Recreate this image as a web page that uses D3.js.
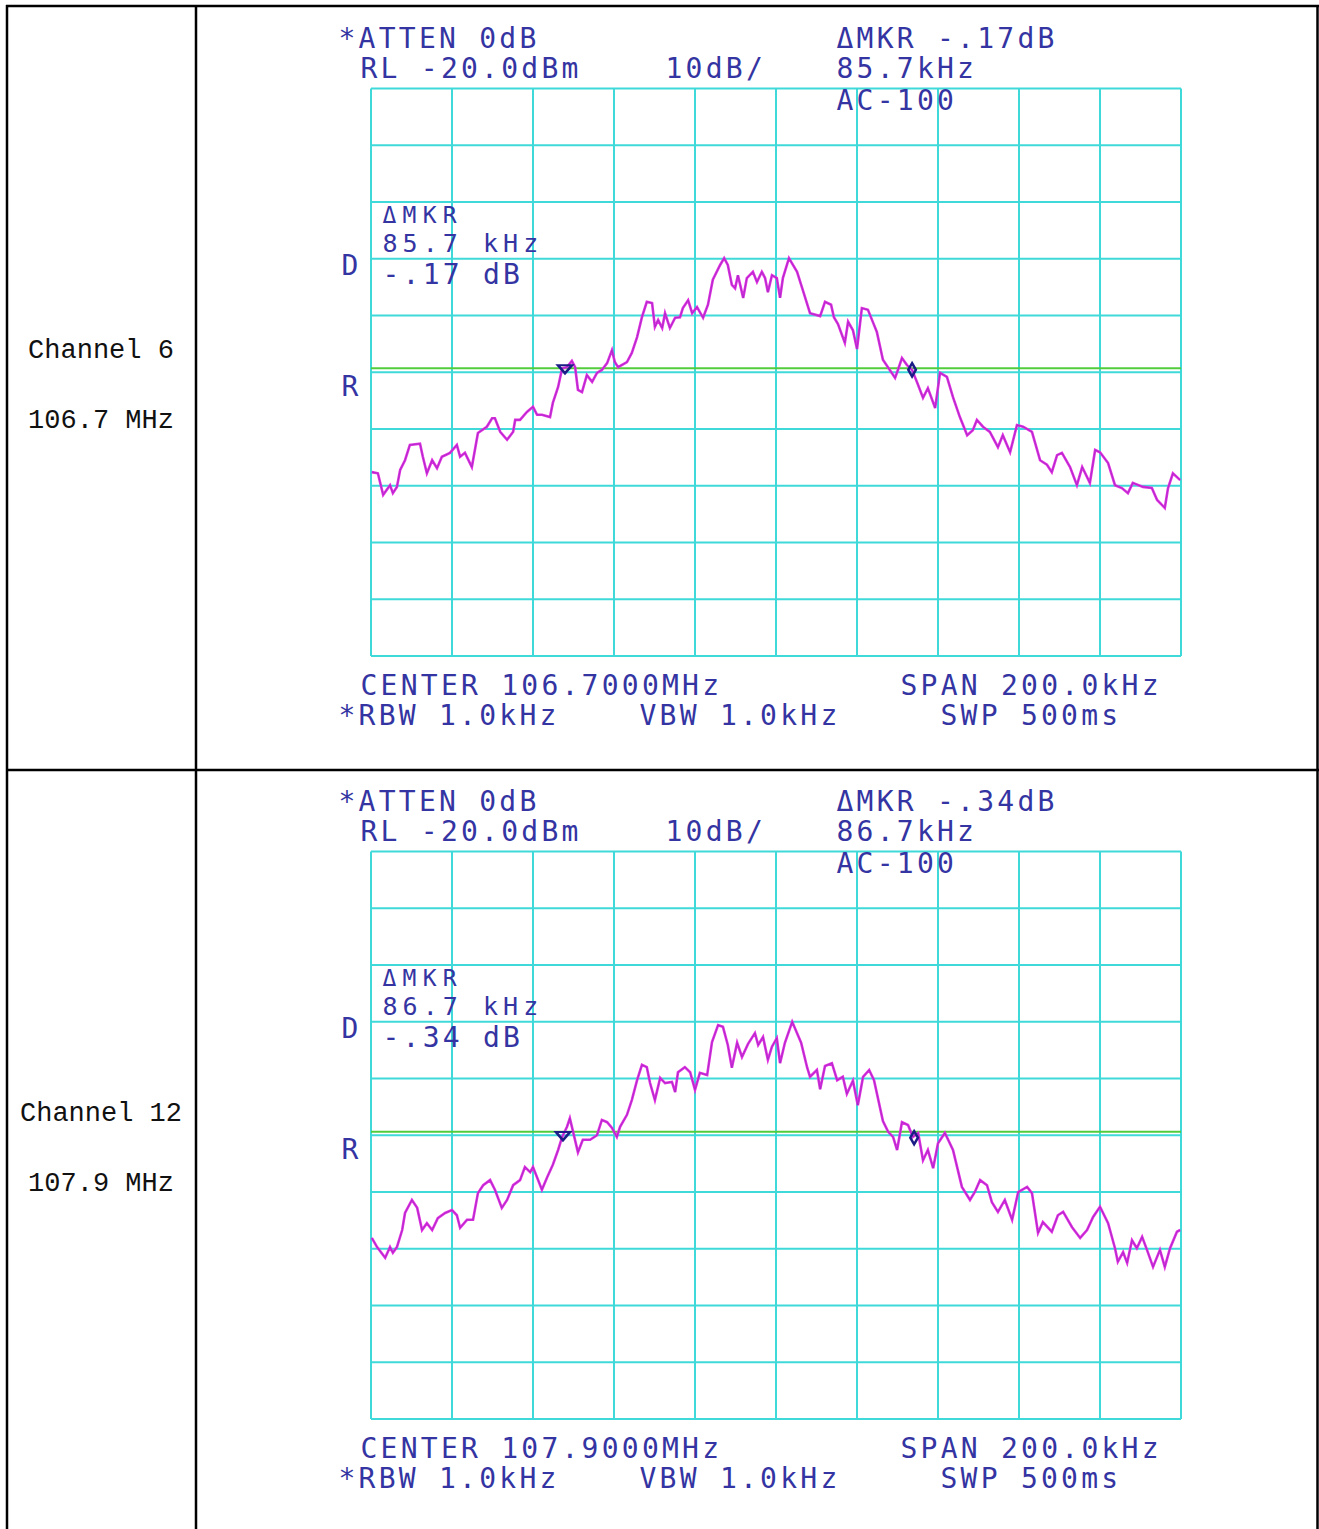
<!DOCTYPE html>
<html><head><meta charset="utf-8">
<script src="https://cdn.jsdelivr.net/npm/d3@7"></script>
<style>html,body{margin:0;padding:0;background:#fff;} svg{display:block}</style>
</head><body>
<svg id="c" width="1319" height="1529"></svg>
<script>
// ---------- data ----------
const channelNames = ["Channel 6", "Channel 12"];
const channelFreqs = ["106.7 MHz", "107.9 MHz"];
const centerLabels = ["CENTER 106.7000MHz", "CENTER 107.9000MHz"];
const deltaKHz = [85.7, 86.7];
const deltaDB = ["-.17", "-.34"];
const marker1Freq = [-52.1, -52.6];   // kHz offset from center
const marker1Level = [-69.4, -70.1];  // dBm
const displayLine = [-69.3, -69.4];   // dBm (green display line)
const freqTicks = d3.range(-100, 101, 20);   // kHz, 10 divisions
const levelTicks = d3.range(-120, -19, 10);  // dBm, 10 dB/div

const freq6 = [-99.8,-98.3,-97.0,-95.3,-94.6,-93.6,-92.8,-91.6,-90.4,-87.9,
-87.2,-86.2,-84.9,-83.7,-82.5,-80.5,-78.8,-78.0,-76.8,-75.1,
-73.6,-71.4,-70.1,-69.4,-68.1,-66.4,-64.9,-64.4,-63.2,-61.5,
-60.0,-59.0,-57.8,-55.8,-55.1,-53.8,-52.8,-51.6,-50.4,-49.6,
-48.9,-47.9,-46.7,-45.4,-44.2,-43.0,-41.7,-40.5,-39.8,-39.0,
-36.8,-35.6,-34.3,-33.1,-31.9,-30.6,-29.9,-29.1,-28.1,-27.4,
-26.2,-24.9,-23.7,-23.0,-21.7,-20.7,-19.5,-18.0,-16.8,-15.6,
-13.8,-12.8,-11.9,-10.9,-10.1,-9.4,-8.1,-7.2,-5.7,-4.7,
-3.5,-2.7,-2.0,-1.0,0.2,1.0,1.7,3.2,5.2,6.7,
8.4,10.9,12.1,13.6,14.3,15.3,17.0,17.8,19.0,20.0,
21.2,22.7,24.0,24.9,26.4,28.1,29.4,30.1,31.1,32.3,
33.6,34.8,36.3,37.5,39.3,40.5,42.2,43.7,45.4,47.2,
48.6,49.6,51.1,52.8,54.8,56.0,57.8,59.5,61.0,63.2,
65.2,66.9,68.1,69.4,70.6,72.6,74.3,75.6,77.5,78.8,
80.0,82.0,83.7,85.4,86.9,88.1,90.6,92.8,94.1,96.0,
96.8,98.0,99.8];
const level6 = [-87.6,-87.8,-91.6,-89.9,-91.3,-90.2,-87.2,-85.5,-82.8,-82.6,
-84.9,-87.8,-85.5,-86.9,-84.9,-84.2,-82.8,-84.9,-84.2,-86.7,
-80.7,-79.6,-78.1,-78.1,-80.5,-81.9,-80.5,-78.4,-78.4,-77.0,
-76.1,-77.5,-77.5,-77.9,-75.4,-72.6,-69.3,-69.1,-68.0,-69.1,
-73.1,-73.5,-70.5,-71.7,-70.1,-69.6,-68.4,-66.1,-68.2,-69.1,
-68.2,-66.6,-63.8,-60.3,-57.6,-57.8,-62.0,-60.8,-62.2,-59.6,
-62.2,-60.4,-60.3,-58.7,-57.3,-59.6,-58.5,-60.4,-58.1,-53.7,
-51.1,-49.9,-51.1,-54.6,-55.2,-52.9,-56.9,-53.4,-52.3,-54.1,
-52.3,-53.4,-55.9,-52.9,-53.4,-56.9,-53.4,-49.9,-52.3,-55.7,
-59.6,-60.1,-57.6,-58.1,-60.3,-61.5,-64.8,-61.1,-62.6,-65.9,
-58.7,-59.0,-61.3,-62.9,-67.8,-69.6,-71.0,-69.6,-67.5,-68.7,
-69.6,-71.7,-74.5,-72.8,-76.3,-70.1,-70.8,-74.4,-77.9,-81.1,
-80.2,-78.4,-79.6,-80.5,-83.2,-81.1,-84.1,-79.3,-79.6,-80.5,
-85.5,-86.3,-87.6,-84.6,-84.2,-86.7,-89.9,-86.7,-89.5,-83.7,
-84.1,-86.0,-89.9,-90.4,-91.3,-89.5,-90.2,-90.4,-92.5,-93.9,
-90.4,-87.8,-89.0];

const freq12 = [-99.8,-98.5,-96.5,-95.3,-94.6,-93.6,-92.3,-91.6,-89.9,-88.6,
-87.4,-86.2,-84.9,-83.5,-81.7,-80.0,-78.8,-78.0,-76.3,-74.8,
-73.6,-72.3,-70.6,-69.4,-67.7,-66.4,-64.9,-63.2,-62.0,-60.7,
-60.0,-57.8,-56.5,-55.1,-53.8,-52.8,-51.6,-50.9,-50.1,-48.9,
-47.7,-45.9,-44.2,-43.0,-41.7,-40.5,-39.3,-38.5,-36.8,-35.6,
-34.3,-33.1,-31.9,-31.1,-29.9,-28.6,-27.4,-25.7,-24.9,-24.2,
-22.5,-21.2,-20.0,-18.8,-17.0,-15.8,-14.3,-13.1,-11.9,-10.9,
-9.6,-8.4,-6.9,-5.2,-4.4,-3.2,-2.0,-1.0,0.2,1.0,
2.2,4.0,6.2,7.7,8.4,10.1,10.9,12.1,13.8,15.1,
16.5,17.5,19.0,20.2,21.5,23.0,24.2,26.4,27.7,28.9,
29.9,31.1,32.6,33.8,35.1,36.3,37.5,38.8,40.0,41.7,
43.7,45.9,47.9,49.1,50.4,52.1,53.3,54.8,56.5,58.3,
59.8,62.0,63.2,64.7,65.9,68.1,69.6,70.9,73.1,75.1,
76.8,78.3,80.0,82.0,83.7,84.4,85.7,86.7,87.9,89.1,
90.4,91.6,93.1,94.8,96.0,97.3,99.0,99.8];
const level12 = [-88.1,-89.7,-91.6,-89.7,-90.7,-89.7,-86.7,-83.7,-81.4,-82.8,
-86.7,-85.5,-86.7,-84.6,-83.7,-83.2,-84.1,-86.3,-84.9,-84.9,
-80.2,-78.8,-77.9,-79.6,-82.8,-81.4,-78.8,-77.9,-75.6,-76.5,
-75.6,-79.6,-77.4,-75.2,-72.6,-70.3,-68.5,-67.0,-69.4,-73.0,
-70.8,-70.8,-70.0,-67.3,-67.7,-68.7,-70.3,-68.5,-66.4,-63.8,
-60.3,-57.6,-58.0,-60.8,-63.8,-59.9,-60.8,-60.6,-62.4,-58.9,
-58.0,-58.9,-62.0,-59.0,-59.4,-53.6,-50.6,-50.9,-54.1,-58.1,
-53.7,-56.2,-53.9,-52.0,-54.1,-52.7,-56.7,-54.4,-52.9,-57.3,
-53.7,-50.0,-53.7,-58.1,-59.7,-58.5,-61.9,-57.8,-57.3,-60.3,
-59.7,-62.7,-60.4,-64.7,-59.7,-58.5,-60.3,-67.5,-69.4,-70.3,
-72.6,-67.7,-68.2,-70.3,-69.6,-74.4,-72.6,-75.8,-71.4,-69.6,
-72.6,-79.1,-81.4,-80.0,-77.9,-78.8,-81.8,-83.5,-81.4,-84.9,
-80.0,-79.1,-80.2,-87.2,-85.3,-87.0,-84.1,-83.5,-86.2,-88.1,
-86.7,-84.4,-82.6,-85.5,-89.9,-92.3,-90.6,-92.5,-88.5,-89.9,
-87.9,-90.2,-93.2,-90.2,-93.2,-89.9,-87.0,-86.7];

const traceFreqs = [freq6, freq12];
const traceLevels = [level6, level12];

// ---------- drawing ----------
const svg = d3.select("#c");
const TXT = "#3434a2", GRID = "#3fd9d9", TRACE = "#e02ee0", GREEN = "#52cc3a", MK = "#1c1c86";
const FONT = "'DejaVu Sans Mono', monospace";
const FS = 28, CELL = 20.1;

// table borders
const tbl = svg.append("g").attr("stroke", "#000").attr("stroke-width", 2.5);
tbl.append("line").attr("x1", 7).attr("x2", 7).attr("y1", 5).attr("y2", 1529);
tbl.append("line").attr("x1", 196).attr("x2", 196).attr("y1", 5).attr("y2", 1529);
tbl.append("line").attr("x1", 1317.5).attr("x2", 1317.5).attr("y1", 5).attr("y2", 1529);
tbl.append("line").attr("x1", 6).attr("x2", 1319).attr("y1", 6).attr("y2", 6);
tbl.append("line").attr("x1", 6).attr("x2", 1319).attr("y1", 770).attr("y2", 770);

function instText(g, str, x0, base, fs) {
  const f = fs || FS;
  g.append("text").attr("x", x0 - 1.5).attr("y", base)
    .attr("font-family", FONT).attr("font-size", f)
    .attr("letter-spacing", CELL - 0.6021 * f).attr("fill", TXT).text(str);
}

for (let i = 0; i < 2; i++) {
  const dy = i * 763;
  const g = svg.append("g");
  const x = d3.scaleLinear().domain([-100, 100]).range([371, 1181]);
  const y = d3.scaleLinear().domain([-120, -20]).range([656 + dy, 88.5 + dy]);

  // left column labels
  g.append("text").attr("x", 101).attr("y", 358 + dy).attr("text-anchor", "middle")
    .attr("font-family", "'Liberation Mono', monospace").attr("font-size", 27)
    .attr("fill", "#111").text(channelNames[i]);
  g.append("text").attr("x", 101).attr("y", 428 + dy).attr("text-anchor", "middle")
    .attr("font-family", "'Liberation Mono', monospace").attr("font-size", 27)
    .attr("fill", "#111").text(channelFreqs[i]);

  // grid
  const grid = g.append("g").attr("stroke", GRID).attr("stroke-width", 2);
  grid.selectAll(".v").data(freqTicks).join("line")
    .attr("x1", d => x(d)).attr("x2", d => x(d))
    .attr("y1", y(-20)).attr("y2", y(-120));
  grid.selectAll(".h").data(levelTicks).join("line")
    .attr("x1", x(-100)).attr("x2", x(100))
    .attr("y1", d => y(d)).attr("y2", d => y(d));

  // display line
  g.append("line").attr("x1", x(-100)).attr("x2", x(100))
    .attr("y1", y(displayLine[i])).attr("y2", y(displayLine[i]))
    .attr("stroke", GREEN).attr("stroke-width", 2);

  // trace
  const pts = traceFreqs[i].map((f, k) => [f, traceLevels[i][k]]);
  const line = d3.line().x(d => x(d[0])).y(d => y(d[1]));
  g.append("path").attr("d", line(pts)).attr("fill", "none")
    .attr("stroke", TRACE).attr("stroke-width", 2.6).attr("stroke-linejoin", "miter");
  g.append("path").attr("d", line(pts)).attr("fill", "none")
    .attr("stroke", "#5a2aa8").attr("stroke-width", 0.9).attr("opacity", 0.4);

  // markers
  const m1x = x(marker1Freq[i]), m1y = y(marker1Level[i]);
  g.append("path").attr("d", d3.symbol(d3.symbolTriangle, 60)())
    .attr("transform", `translate(${m1x},${m1y - 1}) rotate(180) scale(1.2,0.8)`)
    .attr("fill", "none").attr("stroke", MK).attr("stroke-width", 2.5);
  const m2x = x(marker1Freq[i] + deltaKHz[i]), m2y = y(marker1Level[i] + parseFloat(deltaDB[i]));
  g.append("path").attr("d", d3.symbol(d3.symbolDiamond, 50)())
    .attr("transform", `translate(${m2x},${m2y})`)
    .attr("fill", "none").attr("stroke", MK).attr("stroke-width", 2.5);

  // instrument annotations
  instText(g, "*ATTEN 0dB", 340, 48 + dy);
  instText(g, "RL -20.0dBm", 362, 78 + dy);
  instText(g, "10dB/", 667, 78 + dy);
  instText(g, "\u0394MKR " + deltaDB[i] + "dB", 838, 48 + dy);
  instText(g, deltaKHz[i].toFixed(1) + "kHz", 838, 78 + dy);
  instText(g, "AC-100", 838, 110 + dy);
  instText(g, "\u0394MKR", 384, 223 + dy, 23);
  instText(g, deltaKHz[i].toFixed(1) + " kHz", 384, 252 + dy, 25);
  instText(g, deltaDB[i] + " dB", 384, 284 + dy);
  instText(g, "D", 343, 275 + dy);
  instText(g, "R", 343, 396 + dy);
  instText(g, centerLabels[i], 362, 695 + dy);
  instText(g, "SPAN 200.0kHz", 902, 695 + dy);
  instText(g, "*RBW 1.0kHz", 340, 725 + dy);
  instText(g, "VBW 1.0kHz", 641, 725 + dy);
  instText(g, "SWP 500ms", 942, 725 + dy);
}
</script>
</body></html>
